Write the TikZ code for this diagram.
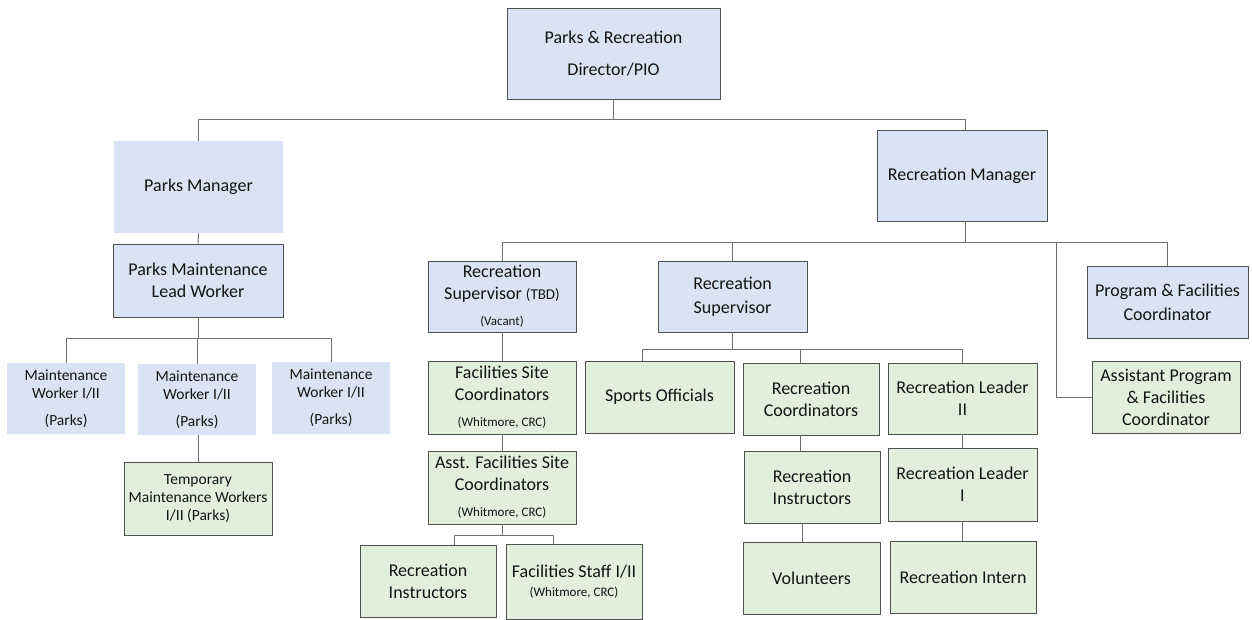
\documentclass[tikz,border=0pt]{standalone}
\usepackage{fontspec}
\setmainfont{Carlito}
\usetikzlibrary{calc}
\definecolor{blu}{HTML}{DAE3F3}
\definecolor{grn}{HTML}{E2EFDA}
\definecolor{bordc}{HTML}{505050}
\definecolor{linec}{HTML}{707070}
\definecolor{txt}{HTML}{141414}
\newcommand\smallf{\fontsize{13}{16}\selectfont}
\newcommand\midf{\fontsize{15}{18}\selectfont}
\tikzset{
  box/.style={line width=0.9pt, text=txt, align=center, inner sep=0pt,
    font=\fontsize{18}{22}\selectfont},
  bl/.style={box, draw=bordc, fill=blu},
  blnb/.style={box, fill=blu},
  gr/.style={box, draw=bordc, fill=grn},
  conn/.style={draw=linec, line width=1pt},
  wh/.style={minimum width=#1},
  ht/.style={minimum height=#1},
}
\begin{document}
\begin{tikzpicture}[x=1pt,y=-1pt]
\useasboundingbox (0,0) rectangle (1252,619);
% top
\node[bl, wh=213pt, ht=91pt, font=\fontsize{18}{32}\selectfont] (dir) at (613.5,53.5) {Parks \& Recreation\\Director/PIO};
\node[blnb, wh=169pt, ht=92pt] (pm) at (198.5,187) {Parks Manager};
\node[bl, wh=170pt, ht=91pt] (rm) at (962,175.5) {Recreation Manager};
% parks branch
\node[bl, wh=170pt, ht=73pt] (pml) at (198,280.5) {Parks Maintenance\\Lead Worker};
\node[blnb, wh=118pt, ht=71pt, font=\fontsize{15.5}{18}\selectfont] (mw1) at (66,398.5) {Maintenance\\Worker I/II\\[9pt](Parks)};
\node[blnb, wh=118pt, ht=71pt, font=\fontsize{15.5}{18}\selectfont] (mw2) at (197,399.5) {Maintenance\\Worker I/II\\[9pt](Parks)};
\node[blnb, wh=118pt, ht=72pt, font=\fontsize{15.5}{18}\selectfont] (mw3) at (331,398) {Maintenance\\Worker I/II\\[9pt](Parks)};
\node[gr, wh=148pt, ht=73pt, font=\fontsize{15.5}{18}\selectfont] (tmp) at (198,498.5) {Temporary\\Maintenance Workers\\I/II (Parks)};
% recreation branch
\node[bl, wh=148pt, ht=71pt] (rst) at (502,296.5) {Recreation\\Supervisor {\midf(TBD)}\\[4pt]{\smallf(Vacant)}};
\node[bl, wh=149pt, ht=71pt, font=\fontsize{18}{24}\selectfont] (rs) at (732.5,296.5) {Recreation\\Supervisor};
\node[bl, wh=161pt, ht=72pt, font=\fontsize{18}{24}\selectfont] (pfc) at (1167.5,302) {Program \& Facilities\\Coordinator};
\node[gr, wh=148pt, ht=72pt] (apf) at (1166,397) {Assistant Program\\\& Facilities\\Coordinator};
\node[gr, wh=148pt, ht=73pt] (fsc) at (502,397.5) {Facilities Site\\Coordinators\\[4pt]{\smallf(Whitmore, CRC)}};
\node[gr, wh=148pt, ht=73pt] (afsc) at (502,487.5) {Asst. Facilities Site\\Coordinators\\[4pt]{\smallf(Whitmore, CRC)}};
\node[gr, wh=136pt, ht=72pt] (ri1) at (428,581) {Recreation\\Instructors};
\node[gr, wh=136pt, ht=75pt] (fs) at (574,581.5) {Facilities Staff I/II\\[-3pt]{\smallf(Whitmore, CRC)}};
\node[gr, wh=149pt, ht=72pt] (so) at (659.5,397) {Sports Officials};
\node[gr, wh=136pt, ht=72pt] (rc) at (811,399) {Recreation\\Coordinators};
\node[gr, wh=149pt, ht=71pt] (rl2) at (962.5,398.5) {Recreation Leader\\II};
\node[gr, wh=136pt, ht=72pt] (ri2) at (812,487) {Recreation\\Instructors};
\node[gr, wh=149pt, ht=73pt] (rl1) at (962.5,484.5) {Recreation Leader\\I};
\node[gr, wh=137pt, ht=72pt] (vol) at (811.5,578) {Volunteers};
\node[gr, wh=146pt, ht=72pt] (int) at (963,577) {Recreation Intern};
% connectors
\draw[conn] (dir.south) -- ++(0,20) coordinate (j1);
\draw[conn] (pm.north) |- (j1) -| ([xshift=3pt]rm.north);
\draw[conn] (pm.south) -- (pml.north);
\draw[conn] (pml.south) -- ++(0,21) coordinate (j4);
\draw[conn] (mw1.north) |- (j4) -| (mw3.north);
\draw[conn] (mw2.north) -- (mw2.north |- j4);
\draw[conn] (tmp.north) -- (tmp.north |- mw2.south);
\draw[conn] ([xshift=3pt]rm.south) -- ++(0,21) coordinate (j2);
\draw[conn] (rst.north) |- (j2) -| (pfc.north);
\draw[conn] (rs.north) -- (rs.north |- j2);
\draw[conn] (apf.west) -- ++(-35,0) coordinate (k) -- (k |- j2);
\draw[conn] (rst.south) -- (fsc.north);
\draw[conn] (fsc.south) -- (afsc.north);
\draw[conn] (afsc.south) -- ++(0,11) coordinate (j5);
\draw[conn] ([xshift=26pt]ri1.north) |- (j5) -| ([xshift=-21pt]fs.north);
\draw[conn] (rs.south) -- ++(0,17) coordinate (j3);
\draw[conn] ([xshift=-17.5pt]so.north) |- (j3) -| (rl2.north);
\draw[conn] ([xshift=-11pt]rc.north) -- ([xshift=-11pt]rc.north |- j3);
\draw[conn] ([xshift=-11pt]rc.south) -- ([xshift=-11pt]rc.south |- ri2.north);
\draw[conn] ([xshift=-10pt]ri2.south) -- ([xshift=-10pt]ri2.south |- vol.north);
\draw[conn] (rl2.south) -- (rl2.south |- rl1.north);
\draw[conn] (rl1.south) -- (rl1.south |- int.north);
\end{tikzpicture}
\end{document}
